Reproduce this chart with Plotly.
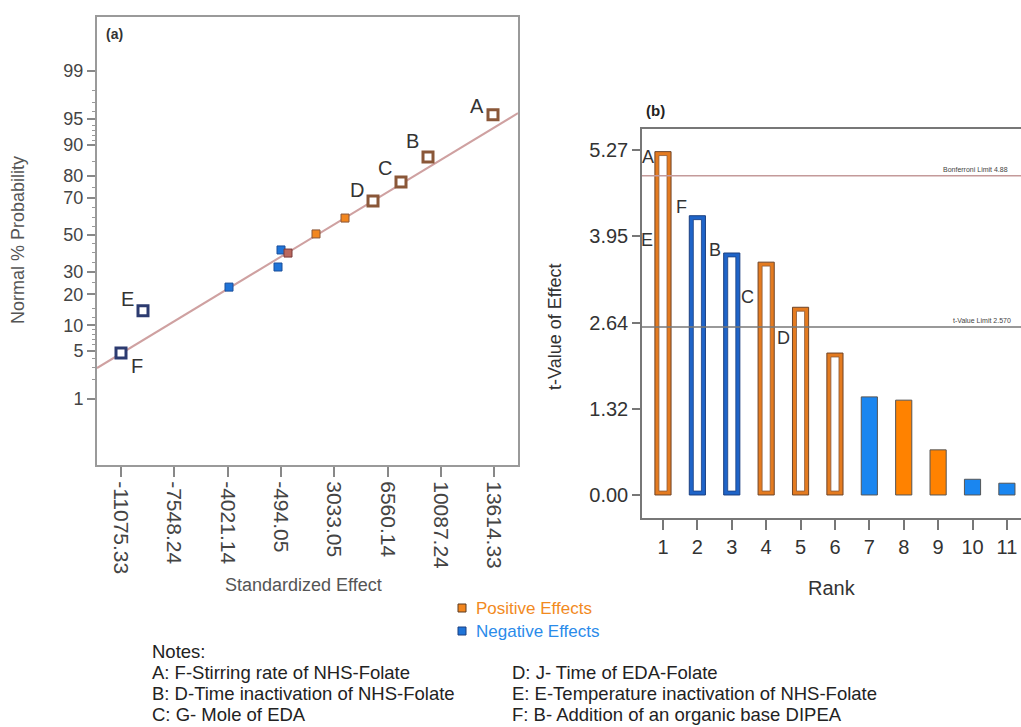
import plotly.graph_objects as go
from statistics import NormalDist

W, H = 1021, 727
inv = NormalDist().inv_cdf


def z(p):
    return inv(p / 100.0)


# ---------------- Panel (a): normal probability plot ----------------
lab_pos_names = ["A", "B", "C", "D"]
lab_pos_effect = [13540, 9239, 7452, 5600]
lab_pos_prob = [95.6, 86.6, 77.4, 68.5]

lab_neg_names = ["E", "F"]
lab_neg_effect = [-9619, -11075]
lab_neg_prob = [14.1, 4.7]

pos_effect = [3747, 1828]
pos_prob = [59.5, 50.6]
mid_effect = [-25]
mid_prob = [39.9]
neg_effect = [-488, -686, -3929]
neg_prob = [41.6, 32.5, 23.0]

fit_effect = [-12663, 15194]
fit_prob = [2.96, 95.8]

prob_ticks = [1, 5, 10, 20, 30, 50, 70, 80, 90, 95, 99]
prob_minor = [2, 3, 4, 6, 7, 8, 9, 12, 15, 25, 35, 40, 45, 55, 60, 65, 75,
              85, 91, 92, 93, 94, 96, 97, 98]
effect_ticks = ["-11075.33", "-7548.24", "-4021.14", "-494.05",
                "3033.05", "6560.14", "10087.24", "13614.33"]

# ---------------- Panel (b): t-values by rank ----------------
ranks = list(range(1, 12))
t_values = [5.25, 4.27, 3.70, 3.56, 2.87, 2.17, 1.50, 1.45, 0.69, 0.24, 0.18]
effect_sign = ["pos", "neg", "neg", "pos", "pos", "pos",
               "neg", "pos", "pos", "neg", "neg"]
hollow = [True, True, True, True, True, True,
          False, False, False, False, False]
bar_letters = ["A", "E", "F", "B", "C", "D"]
t_ticks = [0, 1.3175, 2.635, 3.9525, 5.27]
t_tick_text = ["0.00", "1.32", "2.64", "3.95", "5.27"]
bonferroni = 4.88
t_limit = 2.57

notes_left = ["A: F-Stirring rate of NHS-Folate",
              "B: D-Time inactivation of NHS-Folate",
              "C: G- Mole of EDA"]
notes_right = ["D: J- Time of EDA-Folate",
               "E: E-Temperature inactivation of NHS-Folate",
               "F: B- Addition of an organic base DIPEA"]

# ---------------- styling ----------------
FONT = "Liberation Sans, Arial, sans-serif"
NARROW = "Liberation Sans Narrow, Arial Narrow, Liberation Sans, sans-serif"
BROWN = "#8A5738"
NAVY = "#2C3B70"
ORANGE = "#F2861E"
BLUE = "#1F74D8"
FIT = "#CFA1A1"
BAR_POS = "#E47B20"
BAR_NEG = "#1F64C8"
FILL_POS = "#FF8200"
FILL_NEG = "#1A86F0"


def px_x(px):
    return px / W


def px_y(py):
    return 1 - py / H


def paper_text(x, y, text, size, color, family=FONT, xanchor="center", angle=0):
    return dict(x=px_x(x), y=px_y(y), xref="paper", yref="paper", text=text,
                showarrow=False, xanchor=xanchor, yanchor="middle", textangle=angle,
                font=dict(family=family, size=size, color=color))


fig = go.Figure()

# fitted line
fig.add_trace(go.Scatter(x=fit_effect, y=[z(p) for p in fit_prob], mode="lines",
                         line=dict(color=FIT, width=2), xaxis="x", yaxis="y",
                         showlegend=False, hoverinfo="skip"))
# filled points
fig.add_trace(go.Scatter(x=neg_effect, y=[z(p) for p in neg_prob], mode="markers",
                         marker=dict(symbol="square", size=8, color=BLUE,
                                     line=dict(color="#1A4E9A", width=1)),
                         xaxis="x", yaxis="y", showlegend=False))
fig.add_trace(go.Scatter(x=mid_effect, y=[z(p) for p in mid_prob], mode="markers",
                         marker=dict(symbol="square", size=8, color="#B9685E",
                                     line=dict(color="#7A3A3A", width=1)),
                         xaxis="x", yaxis="y", showlegend=False))
fig.add_trace(go.Scatter(x=pos_effect, y=[z(p) for p in pos_prob], mode="markers",
                         marker=dict(symbol="square", size=8, color=ORANGE,
                                     line=dict(color=BROWN, width=1)),
                         xaxis="x", yaxis="y", showlegend=False))
# labelled hollow points
fig.add_trace(go.Scatter(x=lab_pos_effect, y=[z(p) for p in lab_pos_prob], mode="markers",
                         marker=dict(symbol="square", size=10, color="white",
                                     line=dict(color=BROWN, width=3)),
                         xaxis="x", yaxis="y", showlegend=False))
fig.add_trace(go.Scatter(x=lab_neg_effect, y=[z(p) for p in lab_neg_prob], mode="markers",
                         marker=dict(symbol="square", size=10, color="white",
                                     line=dict(color=NAVY, width=3)),
                         xaxis="x", yaxis="y", showlegend=False))

annotations = []
a_label_shift = {"A": (-16, 9), "B": (-16, 16), "C": (-16, 14), "D": (-16, 11),
                 "E": (-16, 12), "F": (16, -13)}
for names, xs, ps in [(lab_pos_names, lab_pos_effect, lab_pos_prob),
                      (lab_neg_names, lab_neg_effect, lab_neg_prob)]:
    for n, xv, pv in zip(names, xs, ps):
        dx, dy = a_label_shift[n]
        annotations.append(dict(x=xv, y=z(pv), xref="x", yref="y", text=n,
                                showarrow=False, xshift=dx, yshift=dy,
                                xanchor="center", yanchor="middle",
                                font=dict(family=FONT, size=20, color="#333")))

# ---------------- bars ----------------
outer_colors = []
outer_line = []
for s, h in zip(effect_sign, hollow):
    if h:
        outer_colors.append(BAR_POS if s == "pos" else BAR_NEG)
        outer_line.append("#6E4428" if s == "pos" else "#1A3F80")
    else:
        outer_colors.append(FILL_POS if s == "pos" else FILL_NEG)
        outer_line.append("#555555")
fig.add_trace(go.Bar(x=ranks, y=t_values, width=0.47,
                     marker=dict(color=outer_colors, line=dict(color=outer_line, width=1)),
                     xaxis="x2", yaxis="y2", showlegend=False))
ring = 0.06
in_x = [r for r, h in zip(ranks, hollow) if h]
in_y = [t - 2 * ring for t, h in zip(t_values, hollow) if h]
in_line = ["#8A5A3A" if s == "pos" else "#1A3F80"
           for s, h in zip(effect_sign, hollow) if h]
fig.add_trace(go.Bar(x=in_x, y=in_y, base=ring, width=0.235,
                     marker=dict(color="white", line=dict(color=in_line, width=0.8)),
                     xaxis="x2", yaxis="y2", showlegend=False))

b_label_pos = {"A": (0.56, 5.17), "E": (0.53, 3.90), "F": (1.55, 4.40),
               "B": (2.51, 3.75), "C": (3.47, 3.03), "D": (4.49, 2.40)}
for n in bar_letters:
    xv, yv = b_label_pos[n]
    annotations.append(dict(x=xv, y=yv, xref="x2", yref="y2", text=n, showarrow=False,
                            xanchor="center", yanchor="middle",
                            font=dict(family=FONT, size=18, color="#333")))

shapes = [
    dict(type="line", xref="x2 domain", yref="y2", x0=0, x1=1, y0=bonferroni, y1=bonferroni,
         line=dict(color="#C49A9A", width=1.5)),
    dict(type="line", xref="x2 domain", yref="y2", x0=0, x1=1, y0=t_limit, y1=t_limit,
         line=dict(color="#777", width=1.5)),
]
annotations.append(dict(x=px_x(941), y=bonferroni, xref="paper", yref="y2",
                        text="Bonferroni Limit 4.88", showarrow=False,
                        xanchor="left", yanchor="bottom", yshift=1,
                        font=dict(family=FONT, size=7, color="#444")))
annotations.append(dict(x=px_x(951), y=t_limit, xref="paper", yref="y2",
                        text="t-Value Limit 2.570", showarrow=False,
                        xanchor="left", yanchor="bottom", yshift=1,
                        font=dict(family=FONT, size=7, color="#444")))

# panel titles / axis titles / legend / notes
annotations += [
    paper_text(104, 34, "<b>(a)</b>", 14, "#333", xanchor="left"),
    paper_text(644, 110, "<b>(b)</b>", 15, "#222", xanchor="left"),
    paper_text(18, 240, "Normal % Probability", 18, "#555", angle=-90),
    paper_text(303, 585, "Standardized Effect", 18, "#555"),
    paper_text(555, 327, "t-Value of Effect", 18, "#333", angle=-90),
    paper_text(832, 588, "Rank", 20, "#333"),
    paper_text(474, 608, "Positive Effects", 17, "#F28A1E", family=NARROW, xanchor="left"),
    paper_text(474, 631, "Negative Effects", 17, "#2A8BEA", family=NARROW, xanchor="left"),
    paper_text(150, 651, "Notes:", 18.5, "#222", family=NARROW, xanchor="left"),
]
for i, t in enumerate(notes_left):
    annotations.append(paper_text(150, 672 + 21 * i, t, 18.5, "#222",
                                  family=NARROW, xanchor="left"))
for i, t in enumerate(notes_right):
    annotations.append(paper_text(510, 672 + 21 * i, t, 18.5, "#222",
                                  family=NARROW, xanchor="left"))

# legend squares
shapes += [
    dict(type="rect", xref="paper", yref="paper", x0=px_x(458), x1=px_x(466),
         y0=px_y(612), y1=px_y(604), fillcolor=ORANGE, line=dict(color="#5A3A20", width=1)),
    dict(type="rect", xref="paper", yref="paper", x0=px_x(458), x1=px_x(466),
         y0=px_y(635), y1=px_y(627), fillcolor=BLUE, line=dict(color="#1A3F80", width=1)),
]

fig.update_layout(
    width=W, height=H, margin=dict(l=0, r=0, t=0, b=0),
    paper_bgcolor="white", plot_bgcolor="white",
    barmode="overlay", showlegend=False,
    font=dict(family=FONT),
    annotations=annotations, shapes=shapes,
    xaxis=dict(domain=[px_x(97), px_x(518)], anchor="y", range=[-12663, 15194],
               tickvals=[float(t) for t in effect_ticks], ticktext=effect_ticks,
               tickangle=90, ticks="outside", ticklen=10, tickcolor="#888", tickwidth=1.5,
               showline=True, mirror=True, linecolor="#9A9A9A", linewidth=2,
               showgrid=False, zeroline=False,
               tickfont=dict(family=FONT, size=21, color="#444")),
    yaxis=dict(domain=[px_y(465), px_y(17)], anchor="x", range=[-3.262, 3.092],
               tickvals=[z(p) for p in prob_ticks], ticktext=[str(p) for p in prob_ticks],
               ticks="outside", ticklen=8, tickcolor="#888", tickwidth=1.5,
               minor=dict(tickvals=[z(p) for p in prob_minor], ticks="outside",
                          ticklen=3, tickcolor="#999", tickwidth=1),
               showline=True, mirror=True, linecolor="#9A9A9A", linewidth=2,
               showgrid=False, zeroline=False,
               tickfont=dict(family=FONT, size=18, color="#444")),
    xaxis2=dict(domain=[px_x(642), 1.0], anchor="y2", range=[0.39, 11.41],
                tickvals=ranks, ticktext=[str(r) for r in ranks],
                ticks="outside", ticklen=10, tickcolor="#777", tickwidth=1.5,
                showline=True, mirror=True, linecolor="#777", linewidth=1.5,
                showgrid=False, zeroline=False,
                tickfont=dict(family=FONT, size=20, color="#333")),
    yaxis2=dict(domain=[px_y(518), px_y(129)], anchor="x2", range=[-0.352, 5.596],
                tickvals=t_ticks, ticktext=t_tick_text,
                ticks="outside", ticklen=8, tickcolor="#777", tickwidth=1.5,
                showline=True, mirror=False, linecolor="#777", linewidth=1.5,
                showgrid=False, zeroline=False,
                tickfont=dict(family=FONT, size=20, color="#333")),
)

fig.write_html("out.html", config={"displayModeBar": False},
               post_script="document.body.style.margin='0';document.body.style.overflow='hidden';")
